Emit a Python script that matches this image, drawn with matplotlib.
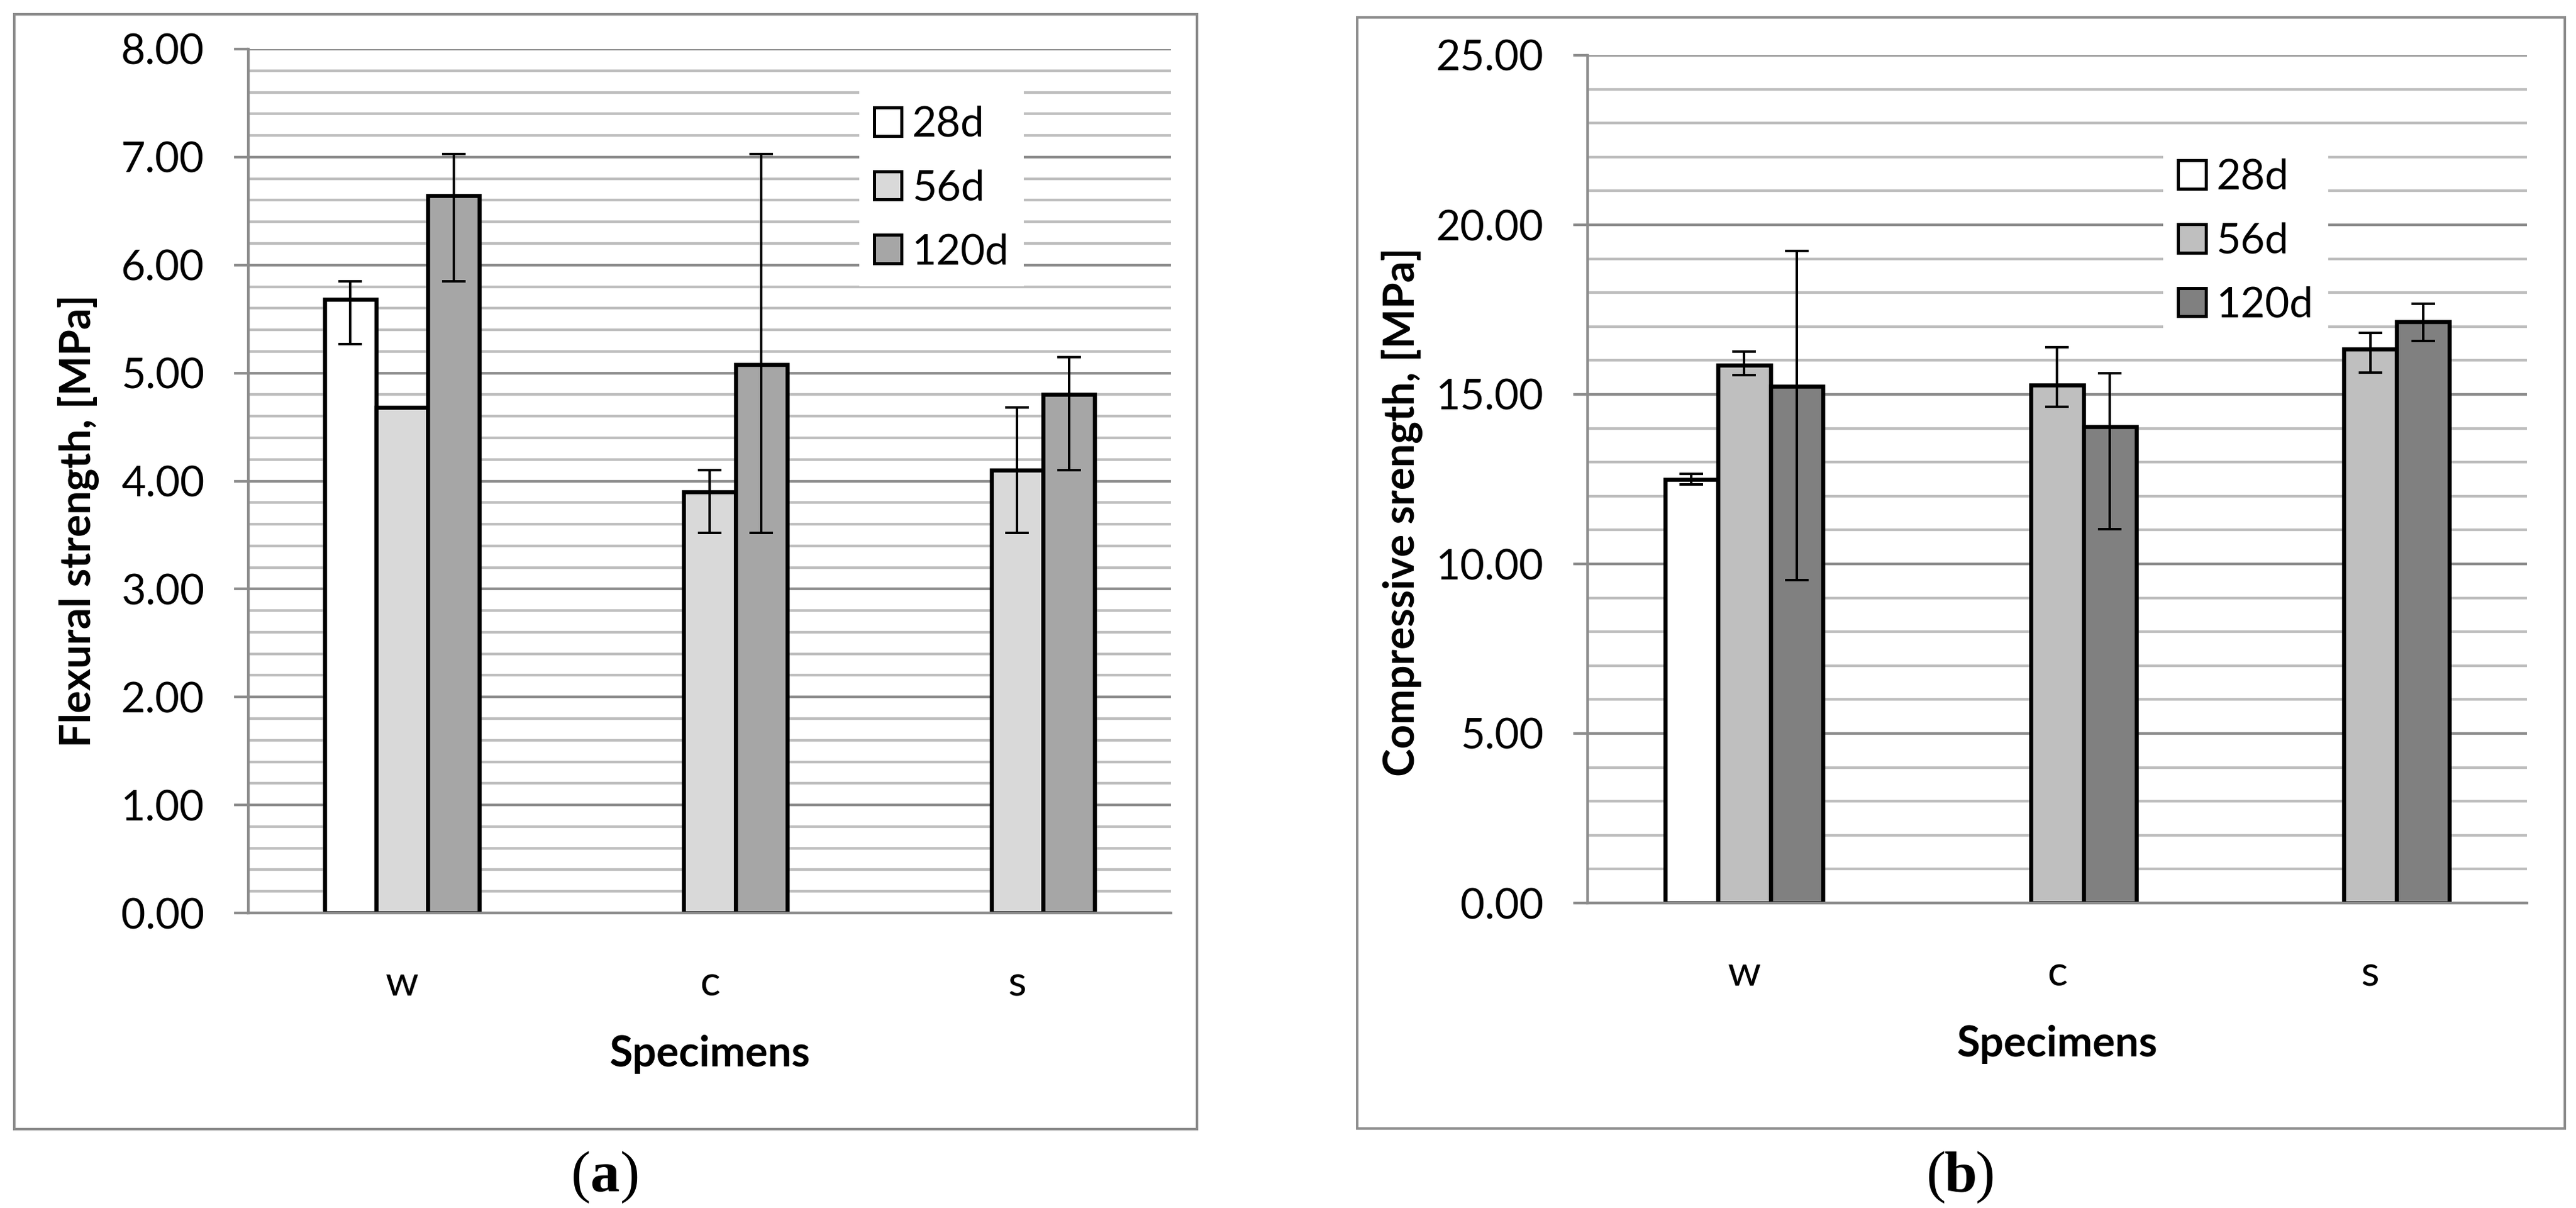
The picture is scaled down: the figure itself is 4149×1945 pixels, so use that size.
import numpy as np
import matplotlib as mpl
mpl.use('Agg')
import matplotlib.pyplot as plt
from matplotlib.patches import Rectangle
from matplotlib.ticker import MultipleLocator, FormatStrFormatter

plt.rcParams['font.family'] = ['Lato', 'DejaVu Sans']

nan = np.nan
categories = ['w', 'c', 's']
series = ['28d', '56d', '120d']

# flexural strength [MPa]
flex_28 = [5.68, nan, nan]
flex_56 = [4.68, 3.90, 4.10]
flex_120 = [6.64, 5.08, 4.80]
flex_28_lo = [0.41, nan, nan]
flex_28_hi = [0.17, nan, nan]
flex_56_lo = [nan, 0.38, 0.58]
flex_56_hi = [nan, 0.20, 0.58]
flex_120_lo = [0.79, 1.56, 0.70]
flex_120_hi = [0.39, 1.95, 0.35]

# compressive strength [MPa]
comp_28 = [12.50, nan, nan]
comp_56 = [15.86, 15.28, 16.33]
comp_120 = [15.23, 14.04, 17.14]
comp_28_lo = [0.16, nan, nan]
comp_28_hi = [0.15, nan, nan]
comp_56_lo = [0.30, 0.64, 0.69]
comp_56_hi = [0.40, 1.12, 0.48]
comp_120_lo = [5.70, 3.01, 0.57]
comp_120_hi = [4.00, 1.58, 0.54]

W, H = 4149, 1945
DPI = 100
PX = 72.0 / DPI  # points per pixel

fig = plt.figure(figsize=(W / DPI, H / DPI), dpi=DPI)
fig.patch.set_facecolor('white')

GRID_MAJ = '#8C8C8C'
GRID_MIN = '#BEBEBE'
FS = 49


def ax_rect(x0, x1, ytop, ybot):
    return [x0 / W, 1 - ybot / H, (x1 - x0) / W, (ybot - ytop) / H]


def panel(rect, vals, errs, colors, ymax, major, minor, ylabel, leg_anchor):
    ax = fig.add_axes(rect)
    x = np.arange(len(categories))
    bw = 0.168
    for i, (v, (lo, hi), c, name) in enumerate(zip(vals, errs, colors, series)):
        xs = x + (i - 1) * bw
        ax.bar(xs, v, width=bw, color=c, edgecolor='black', linewidth=6.5 * PX,
               label=name, zorder=2)
        ax.errorbar(xs, v, yerr=[lo, hi], fmt='none', ecolor='black',
                    elinewidth=4 * PX, capsize=19 * PX, capthick=4 * PX, zorder=3)
    ax.set_xlim(-0.5, 2.5)
    ax.set_ylim(0, ymax)
    ax.yaxis.set_major_locator(MultipleLocator(major))
    ax.yaxis.set_minor_locator(MultipleLocator(minor))
    ax.yaxis.set_major_formatter(FormatStrFormatter('%.2f'))
    ax.set_axisbelow(True)
    ax.grid(True, which='major', axis='y', color=GRID_MAJ, linewidth=4.3 * PX)
    ax.grid(True, which='minor', axis='y', color=GRID_MIN, linewidth=4.3 * PX)
    for s in ['top', 'right']:
        ax.spines[s].set_visible(False)
    for s in ['left', 'bottom']:
        ax.spines[s].set_color(GRID_MAJ)
        ax.spines[s].set_linewidth(4.3 * PX)
        ax.spines[s].set_zorder(4)
    ax.tick_params(axis='y', which='major', length=23 * PX, width=4.3 * PX,
                   color=GRID_MAJ, labelsize=FS, pad=48 * PX)
    ax.tick_params(axis='y', which='minor', length=0)
    ax.set_xticks(x)
    ax.set_xticklabels(categories)
    ax.tick_params(axis='x', length=0, labelsize=FS, pad=83 * PX)
    ax.set_xlabel('Specimens', fontsize=FS, fontweight='bold', labelpad=51 * PX)
    ax.set_ylabel(ylabel, fontsize=FS, fontweight='bold')
    leg = ax.legend(loc='upper left', bbox_to_anchor=leg_anchor, fontsize=FS,
                    frameon=True, fancybox=False, framealpha=1, facecolor='white',
                    edgecolor='none', handlelength=0.65, handleheight=0.66,
                    handletextpad=0.25, labelspacing=0.6, borderpad=0.35,
                    borderaxespad=0)
    leg.set_zorder(5)
    for h in leg.legend_handles:
        h.set_linewidth(5 * PX)
    return ax


ax1 = panel(ax_rect(400, 1886, 79, 1470),
            [flex_28, flex_56, flex_120],
            [(flex_28_lo, flex_28_hi), (flex_56_lo, flex_56_hi),
             (flex_120_lo, flex_120_hi)],
            ['white', '#D9D9D9', '#A6A6A6'], 8, 1, 0.2,
            'Flexural strength, [MPa]', (0.662, 0.952))
ax1.yaxis.set_label_coords(-(400 - 160) / 1486, (1470 - 839) / 1391)

ax2 = panel(ax_rect(2557, 4070, 89, 1454),
            [comp_28, comp_56, comp_120],
            [(comp_28_lo, comp_28_hi), (comp_56_lo, comp_56_hi),
             (comp_120_lo, comp_120_hi)],
            ['white', '#BFBFBF', '#808080'], 25, 5, 1,
            'Compressive srength, [MPa]', (0.613, 0.896))
ax2.yaxis.set_label_coords(-(2557 - 2292) / 1513, (1454 - 824) / 1365)

# outer frames around each panel
for (x0, y0, x1, y1) in [(23, 23, 1928, 1818), (2186, 28, 4131, 1817)]:
    fig.patches.append(Rectangle((x0 / W, 1 - y1 / H), (x1 - x0) / W, (y1 - y0) / H,
                                 transform=fig.transFigure, fill=False,
                                 edgecolor=GRID_MAJ, linewidth=4 * PX))

# panel captions: (a), (b) with bold letter
CAP_FS = 68
for cx, letter in [(975, 'a'), (3158, 'b')]:
    yb = 1 - 1918 / H
    fig.text(cx / W, yb, letter, ha='center', va='baseline', fontsize=CAP_FS,
             fontweight='bold', family='Liberation Serif')
    fig.text((cx - 24) / W, yb, '(', ha='right', va='baseline', fontsize=CAP_FS,
             family='Liberation Serif')
    fig.text((cx + 24) / W, yb, ')', ha='left', va='baseline', fontsize=CAP_FS,
             family='Liberation Serif')

fig.savefig('out.png', dpi=DPI, facecolor='white')
